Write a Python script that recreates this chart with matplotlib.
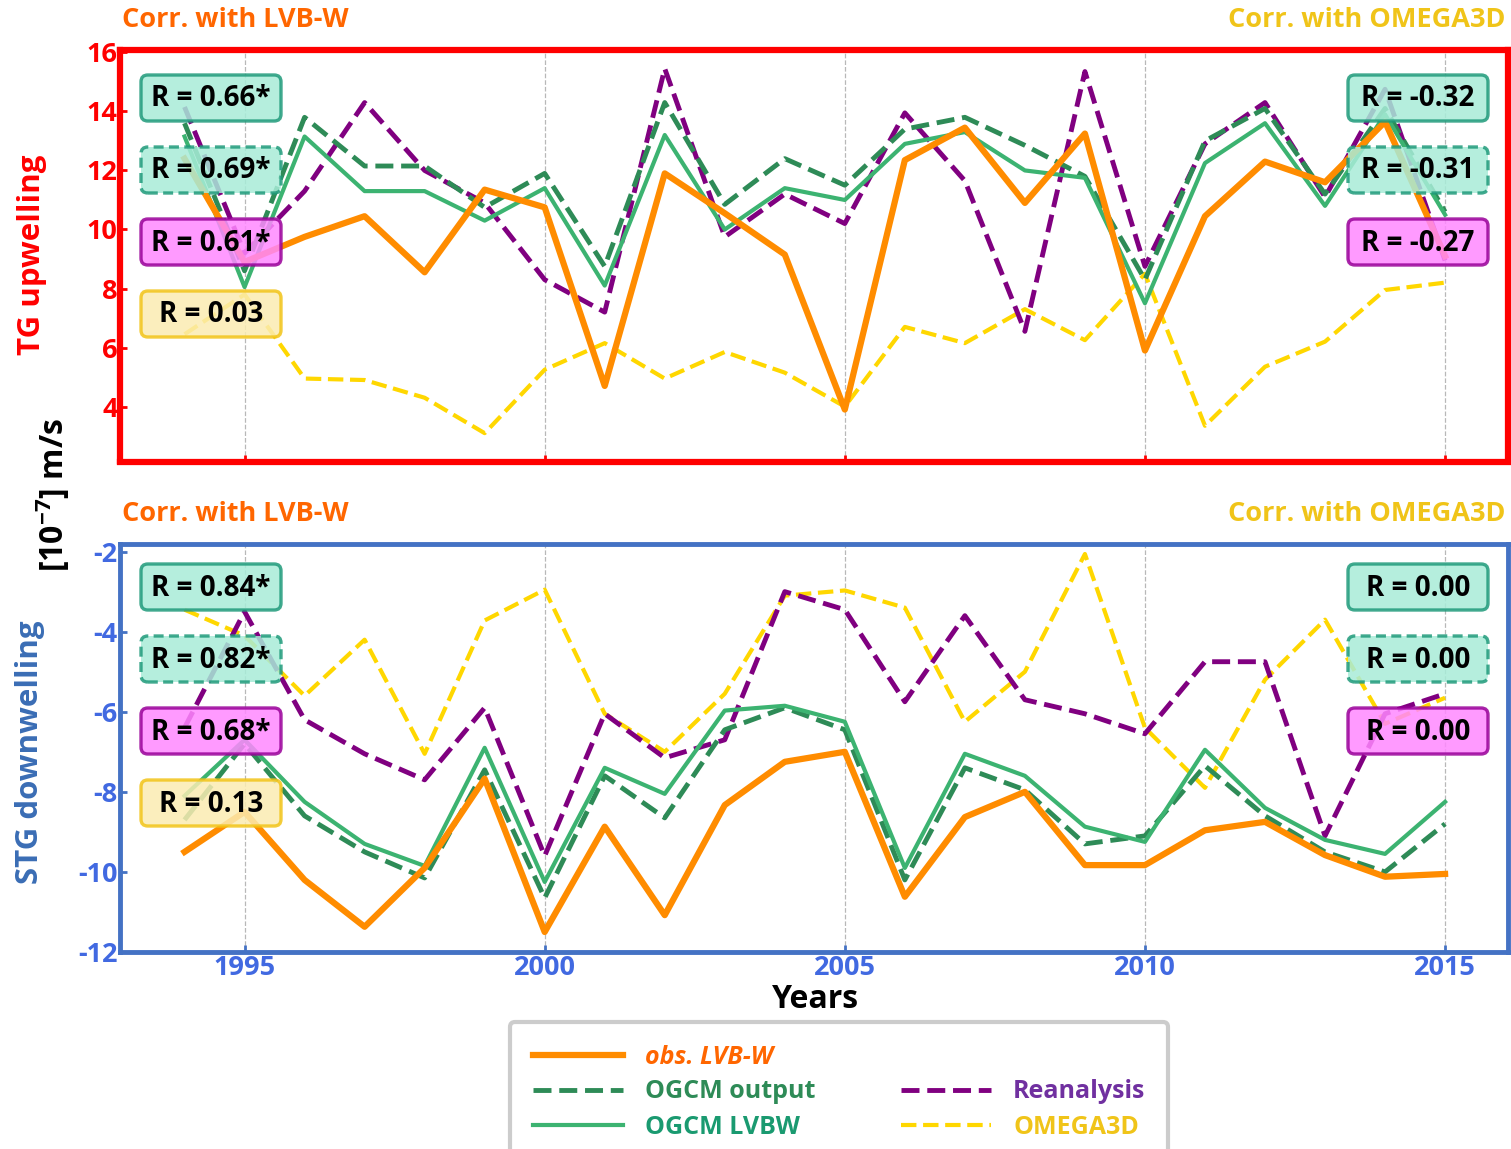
import matplotlib
matplotlib.use('Agg')
import matplotlib.pyplot as plt
from matplotlib.patches import FancyBboxPatch
from matplotlib.lines import Line2D

plt.rcParams['font.family'] = ['Open Sans', 'DejaVu Sans']
plt.rcParams['font.weight'] = 'bold'
plt.rcParams['axes.unicode_minus'] = False
plt.rcParams['mathtext.fontset'] = 'custom'
plt.rcParams['mathtext.bf'] = 'Open Sans:bold'
plt.rcParams['mathtext.rm'] = 'Open Sans:bold'

# ---------------- data ----------------
years = list(range(1994, 2016))

obs_tg = [12.4, 8.9, 9.75, 10.45, 8.55, 11.35, 10.75, 4.7, 11.9, 10.55, 9.15,
          3.9, 12.35, 13.45, 10.9, 13.25, 5.9, 10.45, 12.3, 11.6, 13.65, 9.1]
ogcm_out_tg = [13.6, 8.6, 13.8, 12.15, 12.15, 10.75, 11.9, 8.75, 14.3, 10.85, 12.4,
               11.5, 13.4, 13.8, 12.85, 11.8, 8.3, 13.0, 14.1, 11.2, 14.1, 10.6]
ogcm_lvbw_tg = [13.15, 8.05, 13.15, 11.3, 11.3, 10.3, 11.4, 8.1, 13.2, 10.0, 11.4,
                11.0, 12.9, 13.3, 12.0, 11.75, 7.5, 12.25, 13.6, 10.8, 13.9, 10.5]
rean_tg = [14.15, 9.2, 11.3, 14.3, 12.0, 10.9, 8.3, 7.2, 15.45, 9.75, 11.2,
           10.2, 13.95, 11.65, 6.55, 15.35, 8.75, 12.9, 14.3, 11.1, 14.75, 8.95]
omega_tg = [6.45, 7.8, 4.95, 4.9, 4.3, 3.1, 5.25, 6.15, 4.95, 5.85, 5.15,
            4.0, 6.7, 6.15, 7.3, 6.25, 8.5, 3.35, 5.35, 6.2, 7.95, 8.2]

obs_stg = [-9.5, -8.5, -10.2, -11.37, -9.9, -7.67, -11.5, -8.87, -11.08, -8.33, -7.25,
           -7.0, -10.62, -8.63, -8.0, -9.83, -9.83, -8.96, -8.75, -9.58, -10.12, -10.05]
ogcm_out_stg = [-8.7, -6.8, -8.6, -9.5, -10.15, -7.45, -10.65, -7.6, -8.65, -6.45, -5.9,
                -6.45, -10.2, -7.4, -7.95, -9.3, -9.1, -7.35, -8.6, -9.5, -10.0, -8.8]
ogcm_lvbw_stg = [-8.1, -6.7, -8.25, -9.3, -9.85, -6.9, -10.25, -7.4, -8.05, -5.97, -5.85,
                 -6.25, -9.9, -7.05, -7.6, -8.87, -9.25, -6.95, -8.4, -9.2, -9.55, -8.25]
rean_stg = [-6.4, -3.5, -6.2, -7.05, -7.7, -5.9, -9.6, -6.05, -7.15, -6.7, -3.0,
            -3.45, -5.75, -3.6, -5.7, -6.05, -6.55, -4.75, -4.75, -9.1, -6.05, -5.55]
omega_stg = [-3.45, -4.1, -5.6, -4.2, -7.05, -3.72, -2.95, -6.05, -7.0, -5.55, -3.1,
             -2.97, -3.4, -6.25, -5.0, -2.06, -6.4, -7.9, -5.2, -3.7, -6.3, -5.65]

series_labels = ['obs. LVB-W', 'OGCM output', 'OGCM LVBW', 'Reanalysis', 'OMEGA3D']
r_tg_lvbw = ['R = 0.66*', 'R = 0.69*', 'R = 0.61*', 'R = 0.03']
r_tg_omega = ['R = -0.32', 'R = -0.31', 'R = -0.27']
r_stg_lvbw = ['R = 0.84*', 'R = 0.82*', 'R = 0.68*', 'R = 0.13']
r_stg_omega = ['R = 0.00', 'R = 0.00', 'R = 0.00']

# ---------------- figure ----------------
W, H = 1511, 1149
fig = plt.figure(figsize=(W / 100, H / 100), dpi=100)


def fx(x):
    return x / W


def fy(y):
    return 1 - y / H


L, R = 120.3, 1507.5
ax1 = fig.add_axes([fx(L), fy(461.5), (R - L) / W, (461.5 - 50.3) / H])
ax2 = fig.add_axes([fx(L), fy(952), (R - L) / W, (952 - 544) / H])

c_obs = '#ff8c00'
c_out = '#2e8b57'
c_lvbw = '#3cb371'
c_rean = '#800080'
c_omega = '#ffd700'

handles = None
for ax, obs, out, lvbw, rean, omega in [
        (ax1, obs_tg, ogcm_out_tg, ogcm_lvbw_tg, rean_tg, omega_tg),
        (ax2, obs_stg, ogcm_out_stg, ogcm_lvbw_stg, rean_stg, omega_stg)]:
    h_om, = ax.plot(years, omega, color=c_omega, ls='--', lw=3.0, zorder=3)
    h_re, = ax.plot(years, rean, color=c_rean, ls='--', lw=3.5, zorder=4)
    h_out, = ax.plot(years, out, color=c_out, ls='--', lw=3.5, zorder=5)
    h_lv, = ax.plot(years, lvbw, color=c_lvbw, ls='-', lw=3.0, zorder=6)
    h_obs, = ax.plot(years, obs, color=c_obs, ls='-', lw=4.5, zorder=7)
    handles = [h_obs, h_out, h_lv, h_re, h_om]
    ax.set_xlim(1992.93, 2016.04)
    ax.set_xticks([1995, 2000, 2005, 2010, 2015])
    ax.grid(axis='x', ls='--', color='#b8b8b8', lw=0.9, zorder=1)

ax1.set_ylim(2.14, 16.07)
ax1.set_yticks([4, 6, 8, 10, 12, 14, 16])
ax2.set_ylim(-12, -1.81)
ax2.set_yticks([-12, -10, -8, -6, -4, -2])

red = '#ff0000'
blue_sp = '#4472c4'
blue_tk = '#4169e1'
for sp in ax1.spines.values():
    sp.set_color(red)
    sp.set_linewidth(4.5)
for sp in ax2.spines.values():
    sp.set_color(blue_sp)
    sp.set_linewidth(3.5)

ax1.tick_params(axis='both', direction='in', length=5, width=2, colors=red,
                labelsize=19.5, pad=2)
ax1.tick_params(axis='x', labelbottom=False)
ax2.tick_params(axis='both', direction='in', length=5, width=2, colors=blue_sp,
                labelcolor=blue_tk, labelsize=19.5, pad=2)
for lab in ax1.get_yticklabels() + ax2.get_yticklabels() + ax2.get_xticklabels():
    lab.set_fontweight('bold')

# ---------------- correlation boxes ----------------
c_box_g_fc, c_box_g_ec = '#a8ecd8', '#1f9a7a'
c_box_m_fc, c_box_m_ec = '#ff88ff', '#990099'
c_box_y_fc, c_box_y_ec = '#fbecb2', '#f2c418'
box_styles = [(c_box_g_fc, c_box_g_ec, '-'), (c_box_g_fc, c_box_g_ec, (0, (3, 1.6))),
              (c_box_m_fc, c_box_m_ec, '-'), (c_box_y_fc, c_box_y_ec, '-')]


def rbox(cx, cy, text, fc, ec, ls):
    bw, bh = 140, 46
    p = FancyBboxPatch((fx(cx - bw / 2), fy(cy + bh / 2)), bw / W, bh / H,
                       boxstyle='round,pad=0,rounding_size=0.0045',
                       mutation_aspect=W / H, transform=fig.transFigure,
                       facecolor=fc, edgecolor=ec, lw=2.4, ls=ls, alpha=0.85,
                       zorder=10)
    fig.add_artist(p)
    fig.text(fx(cx), fy(cy + 1), text, ha='center', va='center', fontsize=20,
             fontweight='bold', color='black', zorder=11)


for i, t in enumerate(r_tg_lvbw):
    fc, ec, ls = box_styles[i]
    rbox(211, 98 + 72 * i, t, fc, ec, ls)
for i, t in enumerate(r_tg_omega):
    fc, ec, ls = box_styles[i]
    rbox(1418, 98 + 72 * i, t, fc, ec, ls)
for i, t in enumerate(r_stg_lvbw):
    fc, ec, ls = box_styles[i]
    rbox(211, 587 + 72 * i, t, fc, ec, ls)
for i, t in enumerate(r_stg_omega):
    fc, ec, ls = box_styles[i]
    rbox(1418, 587 + 72 * i, t, fc, ec, ls)

# ---------------- titles / labels ----------------
c_or_t = '#ff6600'
c_ye_t = '#f0c419'
for yy in (20, 514):
    fig.text(fx(122), fy(yy), 'Corr. with LVB-W', ha='left', va='center',
             fontsize=19.5, fontweight='bold', color=c_or_t)
    fig.text(fx(1505), fy(yy), 'Corr. with OMEGA3D', ha='right', va='center',
             fontsize=19.5, fontweight='bold', color=c_ye_t)

fig.text(fx(32), fy(255), 'TG upwelling', rotation=90, ha='center', va='center',
         fontsize=22.5, fontweight='bold', color=red)
fig.text(fx(30), fy(752), 'STG downwelling', rotation=90, ha='center', va='center',
         fontsize=22.5, fontweight='bold', color='#3a6db5')
fig.text(fx(53), fy(495), r'[10$^{\mathbf{-7}}$] m/s', rotation=90, ha='center',
         va='center', fontsize=23, fontweight='bold', color='black')
fig.text(fx(816), fy(1000), 'Years', ha='center', va='center', fontsize=23,
         fontweight='bold', color='black')

# ---------------- legend ----------------
blank = Line2D([], [], color='none')
leg_h = 160 / H
leg = fig.legend([handles[0], handles[1], handles[2], blank, handles[3], handles[4]],
                 [series_labels[0], series_labels[1], series_labels[2], '',
                  series_labels[3], series_labels[4]],
                 ncol=2, loc='upper left',
                 bbox_to_anchor=(fx(510), fy(1022) - leg_h, (1168 - 510) / W, leg_h),
                 mode='expand',
                 fontsize=18, handlelength=3.6, handletextpad=0.9,
                 columnspacing=2.6, labelspacing=0.4, borderpad=0.9,
                 borderaxespad=0, frameon=True, fancybox=True)
leg.get_frame().set_edgecolor('#c0c0c0')
leg.get_frame().set_linewidth(3)
leg_colors = ['#ff6600', '#2e8b57', '#1a9a70', '#000000', '#7030a0', '#f0c419']
for txt, col in zip(leg.get_texts(), leg_colors):
    txt.set_color(col)
    txt.set_fontweight('bold')
leg.get_texts()[0].set_fontstyle('italic')

fig.savefig('out.png', dpi=100)
